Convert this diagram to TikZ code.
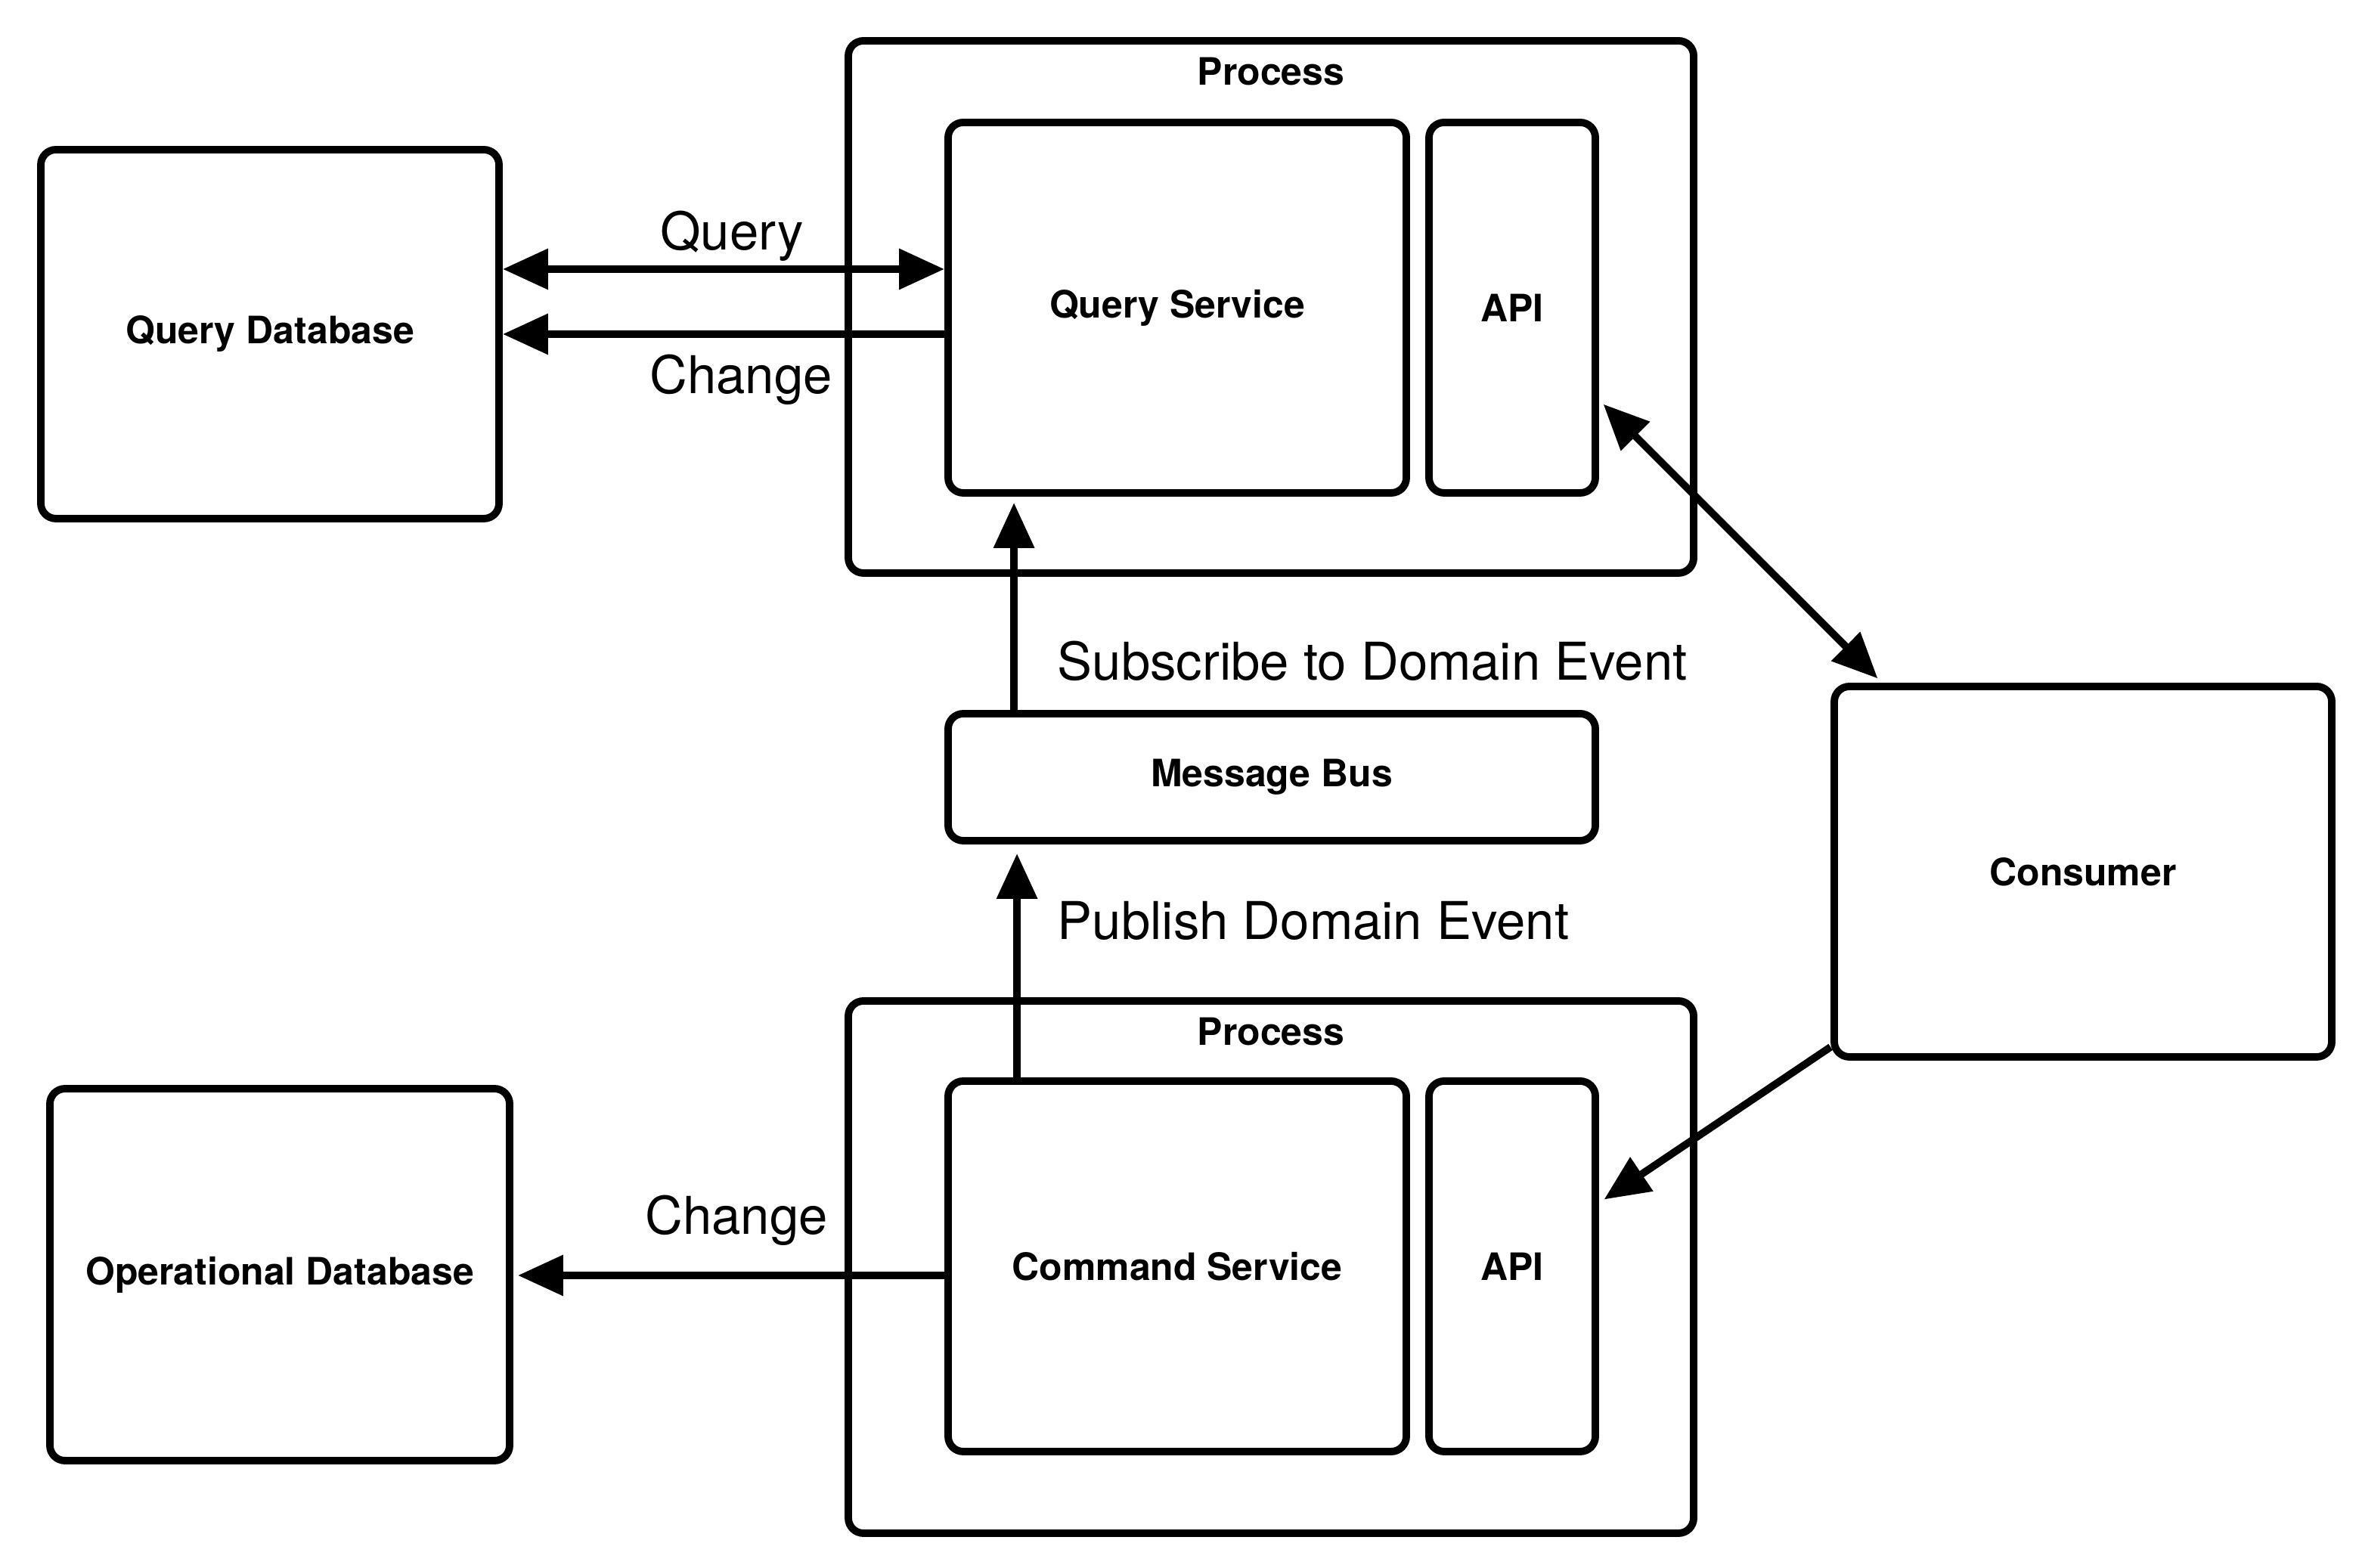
\documentclass[tikz,border=0pt]{standalone}
\usepackage{fontspec}
\setmainfont{TeX Gyre Heros}
\usetikzlibrary{arrows.meta}

\begin{document}
\begin{tikzpicture}[line width=1.4pt,>={Triangle[length=3mm,width=2.6mm]},
  box/.style={draw,rounded corners=1mm,inner sep=0pt,font=\fontsize{7.1}{8}\selectfont\bfseries},
  lbl/.style={font=\fontsize{9.8}{11}\selectfont}]
\useasboundingbox (0,0) rectangle (15.62,10.37);
\node[box,minimum width=3.03cm,minimum height=2.44cm] (qdb) at (1.785,8.16) {Query Database};
\node[box,minimum width=5.59cm,minimum height=3.52cm] (procq) at (8.405,8.34) {};
\node[box,anchor=north,draw=none] (procqlbl) at ([yshift=-1.1mm]procq.north) {Process};
\node[box,minimum width=3.03cm,minimum height=2.45cm] (qsvc) at (7.785,8.335) {Query Service};
\node[box,minimum width=1.10cm,minimum height=2.45cm] (apiq) at (10.0,8.335) {API};
\node[box,minimum width=4.28cm,minimum height=0.84cm] (bus) at (8.41,5.23) {Message Bus};
\node[box,minimum width=3.29cm,minimum height=2.45cm] (cons) at (13.775,4.605) {Consumer};
\node[box,minimum width=5.59cm,minimum height=3.52cm] (procc) at (8.405,1.99) {};
\node[box,anchor=north,draw=none] (procclbl) at ([yshift=-1.1mm]procc.north) {Process};
\node[box,minimum width=3.03cm,minimum height=2.45cm] (csvc) at (7.785,1.995) {Command Service};
\node[box,minimum width=1.10cm,minimum height=2.45cm] (apic) at (10.0,1.995) {API};
\node[box,minimum width=3.04cm,minimum height=2.46cm] (odb) at (1.85,1.94) {Operational Database};
\coordinate (qin) at ([yshift=2.55mm]qsvc.west);
\coordinate (qout) at ([yshift=-1.75mm]qsvc.west);
\coordinate (cout) at ([yshift=-0.6mm]csvc.west);
\draw[<->] (qdb.east |- qin) -- (qin);
\draw[->] (qout) -- (qdb.east |- qout);
\node[lbl] (querylbl) at (4.84,8.81) {Query};
\node[lbl] (changeq) at (4.90,7.86) {Change};
\draw[->,shorten >=0.4mm] ([xshift=4.6mm]bus.north west) -- ([xshift=4.6mm]qsvc.south west);
\node[lbl,anchor=west,inner sep=0pt] (sublbl) at (6.97,6.00) {Subscribe to Domain Event};
\draw[->,shorten >=0.6mm] ([xshift=4.8mm]csvc.north west) -- ([xshift=4.8mm]bus.south west);
\node[lbl,anchor=west,inner sep=0pt] (publbl) at (6.97,4.28) {Publish Domain Event};
\draw[<->,shorten <=0.4mm,shorten >=0.4mm] ([yshift=-6.1mm]apiq.east) -- ([xshift=3.4mm]cons.north west);
\draw[->,shorten >=0.4mm] ([yshift=0.9mm]cons.south west) -- ([yshift=4.2mm]apic.east);
\draw[->,shorten >=0.3mm] (cout) -- (odb.east |- cout);
\node[lbl] (changec) at (4.87,2.30) {Change};
\end{tikzpicture}
\end{document}
